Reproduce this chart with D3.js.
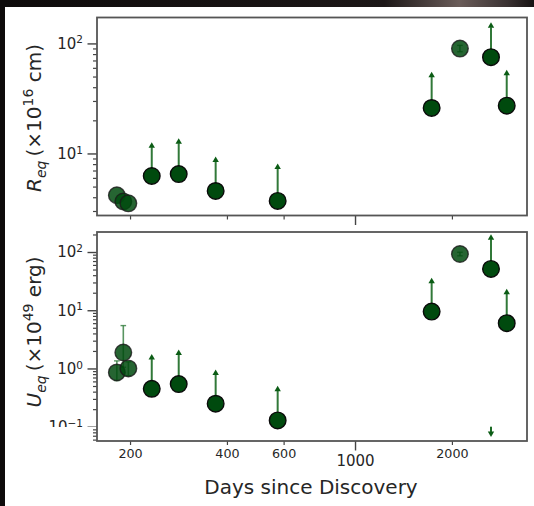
<!DOCTYPE html>
<html><head><meta charset="utf-8">
<script src="https://cdn.jsdelivr.net/npm/d3@7"></script>
<style>
body{margin:0;background:#fff}
svg{display:block}
text{font-family:"DejaVu Sans",sans-serif;fill:#262626}
</style>
</head><body>
<svg id="c" width="534" height="506"></svg>
<script>
// ---------- data ----------
const days        = [182, 190.6, 197.6, 233.6, 283.3, 369, 575, 1730, 2118, 2645, 2960];
const isDetection = [1, 1, 1, 0, 0, 0, 0, 0, 1, 0, 0];          // faded markers = detections, others lower limits
const reqValues   = [4.17, 3.66, 3.52, 6.24, 6.5, 4.56, 3.7, 25.9, 89.7, 75, 27.2];
const reqLimitTop = [null, null, null, 11.9, 12.9, 8.8, 7.6, 52, null, 146, 54];
const reqErrLow   = [null, null, null, null, null, null, null, null, 84, null, null];
const reqErrHigh  = [null, null, null, null, null, null, null, null, 96, null, null];
const uegValues   = [0.853, 1.88, 1.0, 0.448, 0.539, 0.248, 0.128, 9.5, 92.4, 51.2, 6.0];
const uegLimitTop = [null, null, null, 1.57, 1.88, 0.85, 0.448, 32.2, null, 180, 20.8];
const uegErrLow   = [0.62, 1.05, 0.75, null, null, null, null, null, 86, null, null];
const uegErrHigh  = [1.35, 5.45, 1.3, null, null, null, null, null, 99, null, null];
const uegUpperDay  = [2645];
const uegUpperFrom = [0.1];
const uegUpperTo   = [0.075];
const xMinorTicks = [200, 400, 600, 2000];
const xMajorTicks = [1000];
const reqMajorTicks = [10, 100];
const uegMajorTicks = [0.1, 1, 10, 100];

// ---------- layout ----------
const svg = d3.select("#c");
const L = 97, R = 527;
const top1 = 17.5, bot1 = 215.5, top2 = 232, bot2 = 441;

const defs = svg.append("defs");
const g = defs.append("linearGradient").attr("id","tg");
[[0,"#0e0b0b"],[0.72,"#1c1717"],[0.86,"#6a5c59"],[0.95,"#3a3232"],[1,"#161212"]]
  .forEach(s=>g.append("stop").attr("offset",s[0]).attr("stop-color",s[1]));
svg.append("rect").attr("x",0).attr("y",0).attr("width",534).attr("height",7).attr("fill","url(#tg)");
svg.append("rect").attr("x",0).attr("y",0).attr("width",5).attr("height",506).attr("fill","#0e0b0b");

const x = d3.scaleLog().domain([157.9, 3422]).range([L, R]);
const yR = d3.scaleLog().domain([2.73, 172]).range([bot1, top1]);
const yU = d3.scaleLog().domain([0.0568, 220.6]).range([bot2, top2]);

function expOf(d){ return Math.round(Math.log10(d)); }

function drawPanel(y, yTop, yBot, vals, limTop, errLo, errHi, majors, showXLabels, clipY){
  const pg = svg.append("g");
  const minors = y.ticks().filter(d => Math.abs(Math.log10(d) - Math.round(Math.log10(d))) > 1e-6);
  pg.append("g").attr("transform",`translate(${L},0)`)
    .call(d3.axisLeft(y).tickValues(minors).tickSize(4).tickFormat(""))
    .call(a=>a.select(".domain").remove())
    .call(a=>a.selectAll("line").attr("stroke","#444").attr("stroke-width",1.2));
  const ya = pg.append("g").attr("transform",`translate(${L},0)`)
    .call(d3.axisLeft(y).tickValues(majors).tickSize(9.5).tickPadding(4.5).tickFormat(""))
    .call(a=>a.select(".domain").remove())
    .call(a=>a.selectAll("line").attr("stroke","#444").attr("stroke-width",1.4));
  ya.selectAll(".tick text").each(function(d){
    const t = d3.select(this).attr("font-size",15).attr("fill","#262626").attr("font-family","DejaVu Sans");
    t.text("");
    t.append("tspan").text("10");
    const e = String(expOf(d)).replace("-","\u2212");
    t.append("tspan").attr("dy","-0.5em").attr("font-size",10.5).text(e);
  });
  if (clipY){
    const id = "clipy";
    defs.append("clipPath").attr("id",id).append("rect").attr("x",-200).attr("y",0).attr("width",400).attr("height",clipY);
    ya.attr("clip-path",`url(#${id})`);
  }
  const xm = pg.append("g").attr("transform",`translate(0,${yBot})`)
    .call(d3.axisBottom(x).tickValues(xMinorTicks).tickSize(4).tickPadding(4).tickFormat(showXLabels? d3.format("d") : ""))
    .call(a=>a.select(".domain").remove())
    .call(a=>a.selectAll("line").attr("stroke","#444").attr("stroke-width",1.2));
  xm.selectAll("text").attr("font-size",12.7).attr("fill","#262626").attr("font-family","DejaVu Sans");
  const xM = pg.append("g").attr("transform",`translate(0,${yBot})`)
    .call(d3.axisBottom(x).tickValues(xMajorTicks).tickSize(9.5).tickPadding(5).tickFormat(showXLabels? d3.format("d") : ""))
    .call(a=>a.select(".domain").remove())
    .call(a=>a.selectAll("line").attr("stroke","#444").attr("stroke-width",1.4));
  xM.selectAll("text").attr("font-size",15).attr("fill","#262626").attr("font-family","DejaVu Sans");

  const idx = d3.range(days.length);
  const mk = pg.append("g");
  idx.filter(i=>limTop[i]!=null).forEach(i=>{
    const cx = x(days[i]), y0 = y(vals[i]), y1 = y(limTop[i]);
    mk.append("line").attr("x1",cx).attr("x2",cx).attr("y1",y0).attr("y2",y1+2)
      .attr("stroke","#1b6a24").attr("stroke-width",2).attr("stroke-opacity",0.9);
    mk.append("path").attr("d",`M${cx-3.2},${y1+2.5}L${cx+3.2},${y1+2.5}L${cx},${y1-3}Z`).attr("fill","#0b5c15");
  });
  idx.filter(i=>errLo[i]!=null).forEach(i=>{
    const cx = x(days[i]), ya_ = y(errLo[i]), yb = y(errHi[i]);
    mk.append("line").attr("x1",cx).attr("x2",cx).attr("y1",ya_).attr("y2",yb)
      .attr("stroke","#2f7a3a").attr("stroke-width",1.6).attr("stroke-opacity",0.8);
    [ya_,yb].forEach(v=>mk.append("line").attr("x1",cx-2.8).attr("x2",cx+2.8).attr("y1",v).attr("y2",v)
      .attr("stroke","#2f7a3a").attr("stroke-width",1.4).attr("stroke-opacity",0.8));
  });
  idx.forEach(i=>{
    const det = isDetection[i]===1;
    mk.append("circle").attr("cx",x(days[i])).attr("cy",y(vals[i])).attr("r",8.3)
      .attr("fill","#004a0e").attr("fill-opacity",det?0.85:1)
      .attr("stroke",det?"#1a1a1a":"#0a0a0a").attr("stroke-opacity",det?0.8:1).attr("stroke-width",1.4);
  });
  pg.append("rect").attr("x",L).attr("y",yTop).attr("width",R-L).attr("height",yBot-yTop)
    .attr("fill","none").attr("stroke","#555").attr("stroke-width",1.8);
  return mk;
}

drawPanel(yR, top1, bot1, reqValues, reqLimitTop, reqErrLow, reqErrHigh, reqMajorTicks, false, null);
const mk2 = drawPanel(yU, top2, bot2, uegValues, uegLimitTop, uegErrLow, uegErrHigh, uegMajorTicks, true, 427);

uegUpperDay.forEach((d,i)=>{
  const cx = x(d), y0 = yU(uegUpperFrom[i]), y1 = yU(uegUpperTo[i]);
  mk2.append("line").attr("x1",cx).attr("x2",cx).attr("y1",y0).attr("y2",y1-2)
    .attr("stroke","#1b6a24").attr("stroke-width",2);
  mk2.append("path").attr("d",`M${cx-3.2},${y1-2.5}L${cx+3.2},${y1-2.5}L${cx},${y1+3}Z`).attr("fill","#0b5c15");
});

function ylabel(cx, cy, sym, pow, unit){
  const t = svg.append("text").attr("transform",`translate(${cx},${cy}) rotate(-90)`)
    .attr("text-anchor","middle").attr("font-size",20).attr("fill","#262626");
  t.append("tspan").attr("font-style","italic").text(sym);
  t.append("tspan").attr("font-style","italic").attr("font-size",14).attr("dy",5).text("eq");
  t.append("tspan").attr("dy",-5).text("\u2009(\u00D710");
  t.append("tspan").attr("font-size",14).attr("dy",-8).text(pow);
  t.append("tspan").attr("dy",8).text(" " + unit + ")");
}
ylabel(41, 118, "R", "16", "cm");
ylabel(41, 332, "U", "49", "erg");

svg.append("text").attr("x",311).attr("y",494).attr("text-anchor","middle")
  .attr("font-size",20).attr("fill","#262626").text("Days since Discovery");
</script>
</body></html>
